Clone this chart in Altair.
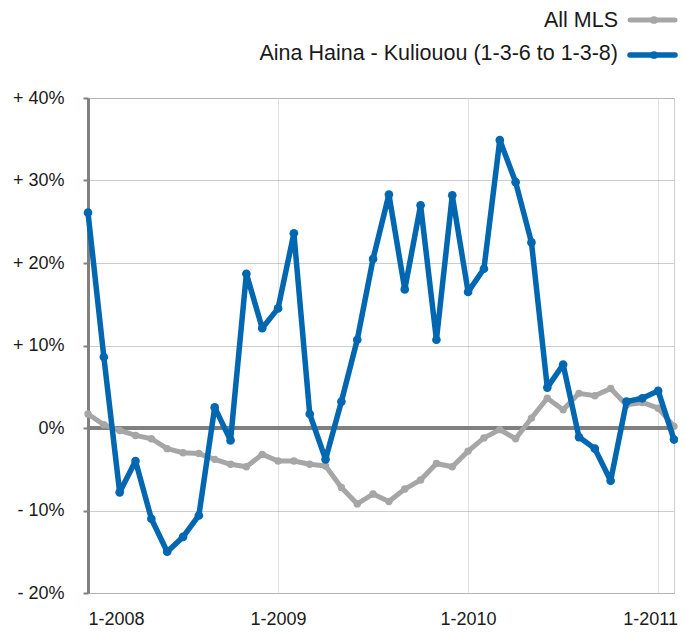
import altair as alt
import pandas as pd

# Month index 0 = Jan 2008 ... 37 = Feb 2011
months = list(range(38))
all_mls = [1.7, 0.4, -0.3, -0.9, -1.3, -2.5, -3.0, -3.1, -3.8, -4.4,
           -4.7, -3.2, -4.0, -4.0, -4.4, -4.6, -7.2, -9.2, -8.0, -8.9,
           -7.4, -6.3, -4.3, -4.7, -2.8, -1.2, -0.2, -1.3, 1.2, 3.6,
           2.2, 4.2, 3.9, 4.8, 2.8, 3.1, 2.4, 0.2]
aina = [26.1, 8.6, -7.8, -4.0, -11.0, -15.0, -13.2, -10.6, 2.5, -1.5,
        18.7, 12.1, 14.5, 23.6, 1.7, -3.8, 3.2, 10.7, 20.5, 28.3,
        16.8, 27.0, 10.7, 28.2, 16.5, 19.3, 34.9, 29.8, 22.5, 4.9,
        7.7, -1.1, -2.5, -6.4, 3.2, 3.6, 4.5, -1.4]
series_names = ["All MLS", "Aina Haina - Kuliouou (1-3-6 to 1-3-8)"]
series_colors = ["#A6A6A6", "#0067B0"]
y_ticks = [-20, -10, 0, 10, 20, 30, 40]
x_ticks = [0, 12, 24, 36]

df = pd.DataFrame({
    "m": months * 2,
    "v": all_mls + aina,
    "s": [series_names[0]] * len(months) + [series_names[1]] * len(months),
})

FONT = "Liberation Sans"

x_enc = alt.X("m:Q",
              scale=alt.Scale(domain=[0, 37], nice=False, zero=False),
              axis=alt.Axis(values=x_ticks,
                            labelExpr="'1-' + (2008 + datum.value / 12)",
                            labelOffset={"condition": {"test": "datum.value == 36", "value": -8}, "value": 0},
                            grid=True, gridColor="#E2E2E2", gridWidth=1,
                            domain=False, ticks=False, tickSize=0,
                            labelBaseline="alphabetic",
                            labelPadding=31, title=None))
y_enc = alt.Y("v:Q",
              scale=alt.Scale(domain=[-20, 40], nice=False),
              axis=alt.Axis(values=y_ticks,
                            labelExpr="datum.value > 0 ? '+ ' + datum.value + '%' : (datum.value < 0 ? '- ' + abs(datum.value) + '%' : '0%')",
                            grid=True, gridColor="#9A9A9A", gridDash=[1, 1], gridWidth=1,
                            domainColor="#808080", domainWidth=3,
                            tickColor="#808080", tickSize=5, tickWidth=2,
                            labelPadding=19, title=None))

base = alt.Chart(df)

zero = alt.Chart(df).mark_rule(color="#808080", strokeWidth=4).encode(y=alt.datum(0))

layers = [zero]
widths = [5, 5.5]
psizes = [55, 75]
for name, col, w, ps in zip(series_names, series_colors, widths, psizes):
    sub = base.transform_filter(alt.datum.s == name)
    layers.append(sub.mark_line(color=col, strokeWidth=w, strokeJoin="round").encode(x=x_enc, y=y_enc))
    layers.append(sub.mark_point(color=col, filled=True, opacity=1, size=ps).encode(x=x_enc, y=y_enc))

# manual legend (text on the left, symbol on the right)
leg_text_y = [-71, -38.5]
leg_sym_y = [-78, -43]
for name, col, w, ty, sy in zip(series_names, series_colors, widths, leg_text_y, leg_sym_y):
    ldf = pd.DataFrame({"s": [name]})
    layers.append(alt.Chart(ldf).mark_text(align="right", baseline="alphabetic", font=FONT,
                                           fontSize=21.5, color="#1A1A1A")
                  .encode(text="s:N", x=alt.value(530), y=alt.value(ty)))
    layers.append(alt.Chart(ldf).mark_rule(color=col, strokeWidth=w, strokeCap="round")
                  .encode(x=alt.value(542), x2=alt.value(587), y=alt.value(sy)))
    layers.append(alt.Chart(ldf).mark_point(color=col, filled=True, opacity=1, size=60)
                  .encode(x=alt.value(566), y=alt.value(sy)))

chart = alt.layer(*layers).properties(
    width=586, height=495,
    autosize=alt.AutoSizeParams(type="none"),
    padding={"left": 80, "top": 90, "right": 4, "bottom": 36},
).configure_view(
    stroke="#9A9A9A", strokeDash=[1, 1], strokeWidth=1
).configure_axis(
    labelFont=FONT, labelFontSize=18, labelColor="#1A1A1A"
)

chart.save("out.html", embed_options={"renderer": "svg", "actions": False})
